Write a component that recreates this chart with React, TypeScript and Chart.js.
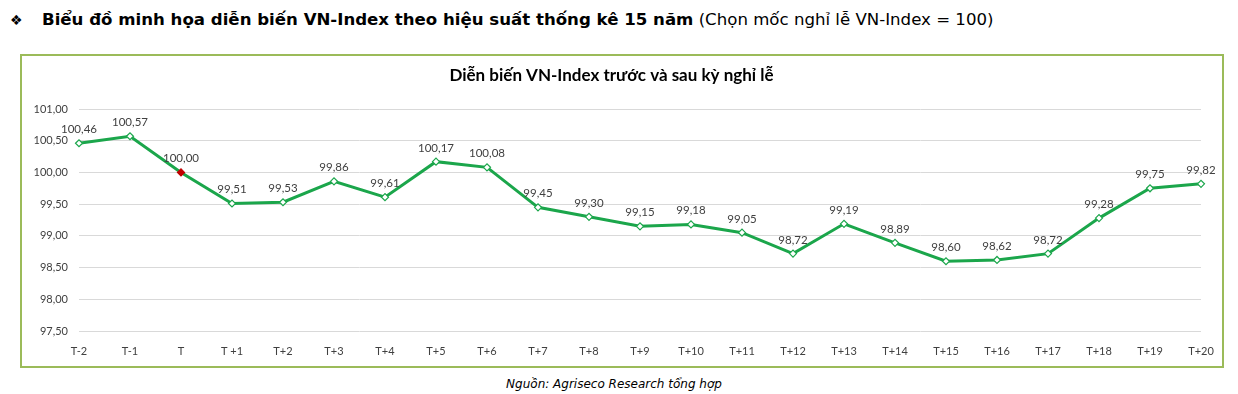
import React, { useEffect, useRef } from "react";
import { Chart, registerables } from "chart.js";

Chart.register(...registerables);

const categories = [
  "T-2", "T-1", "T", "T +1", "T+2", "T+3", "T+4", "T+5", "T+6", "T+7", "T+8", "T+9",
  "T+10", "T+11", "T+12", "T+13", "T+14", "T+15", "T+16", "T+17", "T+18", "T+19", "T+20",
];
const indexValues = [
  100.46, 100.57, 100.0, 99.51, 99.53, 99.86, 99.61, 100.17, 100.08, 99.45, 99.3, 99.15,
  99.18, 99.05, 98.72, 99.19, 98.89, 98.6, 98.62, 98.72, 99.28, 99.75, 99.82,
];
const yMin = 97.5;
const yMax = 101;
const yStep = 0.5;
const holidayIndex = 2;

const GREEN = "#1ba64b";
const RED = "#c00000";
const TEXT = "#404040";
const CHART_FONT = "Lato, 'Liberation Sans', sans-serif";

const fmt = (v: number) => v.toFixed(2).replace(".", ",");

const valueLabels = {
  id: "valueLabels",
  afterDatasetsDraw(chart: any) {
    const ctx = chart.ctx;
    const meta = chart.getDatasetMeta(0);
    ctx.save();
    ctx.font = `11.5px ${CHART_FONT}`;
    ctx.fillStyle = TEXT;
    ctx.textAlign = "center";
    ctx.textBaseline = "bottom";
    meta.data.forEach((pt: any, i: number) => {
      ctx.fillText(fmt(indexValues[i]), pt.x, pt.y - 8);
    });
    ctx.restore();
  },
};

export default function App() {
  const ref = useRef<HTMLCanvasElement | null>(null);

  useEffect(() => {
    if (!ref.current) return;
    const chart = new Chart(ref.current, {
      type: "line",
      data: {
        labels: categories,
        datasets: [
          {
            data: indexValues,
            borderColor: GREEN,
            borderWidth: 3,
            tension: 0,
            pointStyle: "rectRot",
            pointRadius: 3.5,
            pointBorderWidth: 1.2,
            pointBackgroundColor: indexValues.map((_, i) => (i === holidayIndex ? RED : "#ffffff")),
            pointBorderColor: indexValues.map((_, i) => (i === holidayIndex ? RED : GREEN)),
          },
        ],
      },
      options: {
        responsive: false,
        animation: false,
        layout: { padding: { top: 0, right: 21, bottom: 0, left: 0 } },
        plugins: {
          legend: { display: false },
          tooltip: { enabled: false },
          title: {
            display: true,
            text: "Diễn biến VN-Index trước và sau kỳ nghỉ lễ",
            color: "#000000",
            font: { family: CHART_FONT, size: 17, weight: "bold", lineHeight: 1.2 },
            padding: { top: 9, bottom: 23.6 },
          },
        },
        scales: {
          x: {
            offset: false,
            grid: { display: false },
            border: { display: false },
            ticks: {
              autoSkip: false,
              maxRotation: 0,
              color: TEXT,
              padding: 6,
              font: { family: CHART_FONT, size: 11 },
            },
            afterFit: (s: any) => {
              s.height = 35;
            },
          },
          y: {
            min: yMin,
            max: yMax,
            grid: { color: "#d9d9d9", drawTicks: false, lineWidth: 1 },
            border: { display: false },
            ticks: {
              stepSize: yStep,
              color: TEXT,
              padding: 11,
              font: { family: CHART_FONT, size: 11 },
              callback: (v: any) => fmt(Number(v)),
            },
            afterFit: (s: any) => {
              s.width = 57;
            },
          },
        },
      },
      plugins: [valueLabels],
    });
    return () => chart.destroy();
  }, []);

  return (
    <div style={{ position: "absolute", left: 0, top: 0, width: 1238, height: 394, background: "#fff", overflow: "hidden" }}>
      <div
        style={{
          position: "absolute",
          left: 10,
          top: 8,
          whiteSpace: "nowrap",
          fontFamily: "'DejaVu Sans', sans-serif",
          fontSize: 16.6,
          color: "#000",
          lineHeight: "24px",
        }}
      >
        <span style={{ fontSize: 14, display: "inline-block", width: 32 }}>❖</span>
        <span style={{ fontWeight: "bold" }}>Biểu đồ minh họa diễn biến VN-Index theo hiệu suất thống kê 15 năm</span>
        <span> (Chọn mốc nghỉ lễ VN-Index = 100)</span>
      </div>
      <div
        style={{
          position: "absolute",
          left: 20,
          top: 54,
          width: 1200,
          height: 310,
          border: "2px solid #9bbb59",
        }}
      >
        <canvas ref={ref} width={1200} height={310} style={{ display: "block" }} />
      </div>
      <div
        style={{
          position: "absolute",
          left: 0,
          width: 1228,
          top: 375,
          textAlign: "center",
          fontFamily: "'DejaVu Sans', sans-serif",
          fontStyle: "italic",
          fontSize: 12,
          color: "#000",
          lineHeight: "18px",
        }}
      >
        Nguồn: Agriseco Research tổng hợp
      </div>
    </div>
  );
}
